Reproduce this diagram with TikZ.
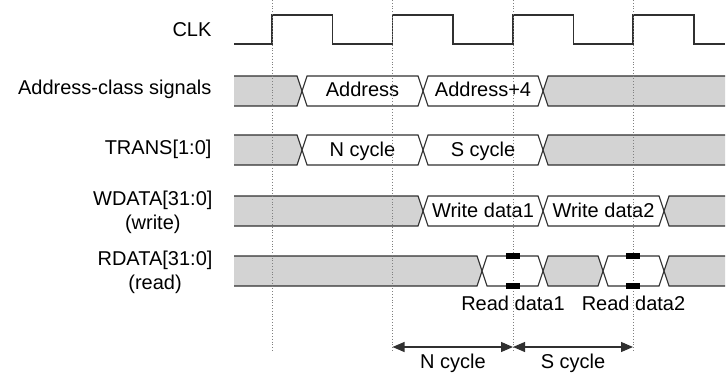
\documentclass[tikz,border=0pt]{standalone}
\usepackage{fontspec}
\setmainfont{Liberation Sans}
\usetikzlibrary{arrows.meta}
\definecolor{busgrey}{HTML}{D3D3D3}
\definecolor{wire}{HTML}{303030}
\newcommand\hexseg[4]{% a b yc fill
  \filldraw[fill=#4] (#1+5,#3-15) -- (#2-5,#3-15) -- (#2,#3) -- (#2-5,#3+15) -- (#1+5,#3+15) -- (#1,#3) -- cycle;}
\newcommand\busfirst[3]{% b yc fill
  \fill[#3] (234,#2-15) -- (#1-5,#2-15) -- (#1,#2) -- (#1-5,#2+15) -- (234,#2+15) -- cycle;
  \draw (234,#2-15) -- (#1-5,#2-15) -- (#1,#2) -- (#1-5,#2+15) -- (234,#2+15);}
\newcommand\buslast[3]{% a yc fill
  \fill[#3] (#1+5,#2-15) -- (725,#2-15) -- (725,#2+15) -- (#1+5,#2+15) -- (#1,#2) -- cycle;
  \draw (725,#2-15) -- (#1+5,#2-15) -- (#1,#2) -- (#1+5,#2+15) -- (725,#2+15);}
\begin{document}
\begin{tikzpicture}[x=1pt,y=-1pt, line width=1.1pt, color=wire,
  lbl/.style={font=\fontsize{20}{24}\selectfont, inner sep=0pt, text=black},
  siglbl/.style={lbl, anchor=east, align=center},
  txt/.style={lbl, anchor=base},
  guide/.style={draw=gray, line width=0.8pt, dotted},
  marker/.style={fill=black, draw=none, minimum width=14pt, minimum height=6pt, inner sep=0pt},
  dim/.style={line width=1.1pt, draw=wire, {Triangle[length=12pt,width=10pt]}-{Triangle[length=12pt,width=10pt]}}]
\useasboundingbox (0,0) rectangle (727,374);
% clock
\draw (234,44) -- (272,44) -- (272,15) -- (332.5,15) -- (332.5,44) -- (392.5,44) -- (392.5,15) -- (453,15) -- (453,44)
  -- (513,44) -- (513,15) -- (573.5,15) -- (573.5,44) -- (633,44) -- (633,15) -- (694,15) -- (694,44) -- (725,44);
% labels
\node[siglbl] (lclk) at (212,30) {CLK};
\node[siglbl] (laddr) at (212,89) {Address-class signals};
\node[siglbl] (ltrans) at (212,149) {TRANS[1:0]};
\node[siglbl] (lw) at (213,212) {WDATA[31:0]\\(write)};
\node[siglbl] (lr) at (213,272) {RDATA[31:0]\\(read)};
% address row
\busfirst{302}{91}{busgrey}
\hexseg{302}{423}{91}{white}
\hexseg{423}{543}{91}{white}
\buslast{543}{91}{busgrey}
\node[txt] (ta) at (362.5,97) {Address};
\node[txt] (ta4) at (483,97) {Address+4};
% trans row
\busfirst{302}{150}{busgrey}
\hexseg{302}{423}{150}{white}
\hexseg{423}{543}{150}{white}
\buslast{543}{150}{busgrey}
\node[txt] (tn) at (362.5,157) {N cycle};
\node[txt] (ts) at (483,157) {S cycle};
% wdata row
\busfirst{423}{211}{busgrey}
\hexseg{423}{543}{211}{white}
\hexseg{543}{664}{211}{white}
\buslast{664}{211}{busgrey}
\node[txt] (tw1) at (483,217) {Write data1};
\node[txt] (tw2) at (603.5,217) {Write data2};
% rdata row
\busfirst{482}{271}{busgrey}
\hexseg{482}{543}{271}{white}
\hexseg{543}{603}{271}{busgrey}
\hexseg{603}{664}{271}{white}
\buslast{664}{271}{busgrey}
% guides
\foreach \gx/\gn in {272/a,392.5/b,513/c,633/d}{
  \coordinate (g\gn top) at (\gx,0);
  \coordinate (g\gn bot) at (\gx,352);
  \draw[guide] (g\gn top) -- (g\gn bot);
}
% markers
\node[marker] (m1t) at (513,256) {};
\node[marker] (m1b) at (513,286) {};
\node[marker] (m2t) at (633,256) {};
\node[marker] (m2b) at (633,286) {};
\node[txt] (tr1) at (513,310) {Read data1};
\node[txt] (tr2) at (633.5,310) {Read data2};
% dimension arrows
\coordinate (d1) at (392.5,347);
\coordinate (d2) at (513,347);
\coordinate (d3) at (633,347);
\draw[dim] (d1) -- (d2);
\draw[dim] (d2) -- (d3);
\node[txt] (tnc) at (453,368) {N cycle};
\node[txt] (tsc) at (573,368) {S cycle};
\end{tikzpicture}
\end{document}
